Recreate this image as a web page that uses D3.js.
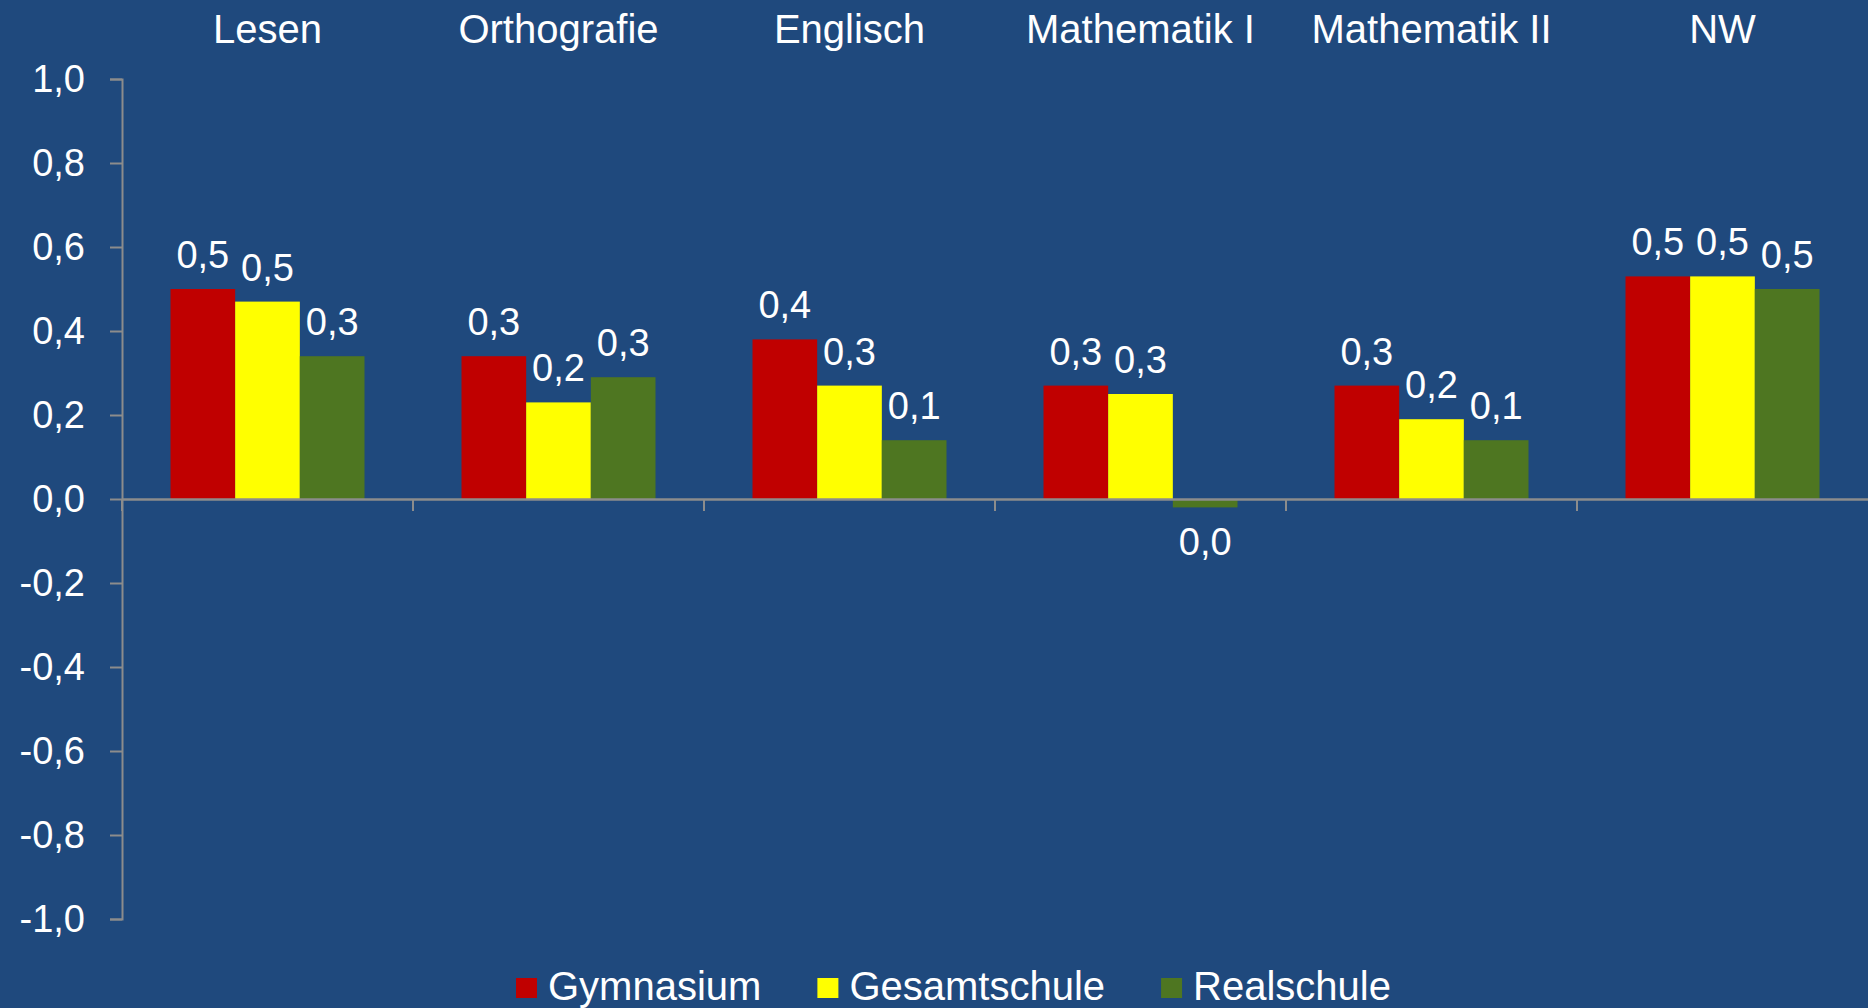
<!DOCTYPE html>
<html>
<head>
<meta charset="utf-8">
<script src="https://cdn.jsdelivr.net/npm/d3@7"></script>
<style>
  body { margin: 0; background: #1F497D; }
  #chart { width: 1868px; height: 1008px; }
  text { font-family: "Liberation Sans", Arial, sans-serif; fill: #fff; }
</style>
</head>
<body>
<div id="chart"></div>
<script>
// data
const subjects = ["Lesen", "Orthografie", "Englisch", "Mathematik I", "Mathematik II", "NW"];
const schools = ["Gymnasium", "Gesamtschule", "Realschule"];
const gymnasium    = [0.50, 0.34, 0.38, 0.27, 0.27, 0.53];
const gesamtschule = [0.47, 0.23, 0.27, 0.25, 0.19, 0.53];
const realschule   = [0.34, 0.29, 0.14, -0.02, 0.14, 0.50];
const yTicks = [-1, -0.8, -0.6, -0.4, -0.2, 0, 0.2, 0.4, 0.6, 0.8, 1];
const barColors = ["#C00000", "#FFFF00", "#4E7621"];

const width = 1868, height = 1008;
const svg = d3.select("#chart").append("svg")
    .attr("width", width)
    .attr("height", height);

const left = 122;
const y = d3.scaleLinear().domain([-1, 1]).range([919, 79]);
const x0 = d3.scaleBand().domain(subjects).range([left, width])
    .paddingInner(1 / 3).paddingOuter(1 / 6);
const x1 = d3.scaleBand().domain(schools).range([0, x0.bandwidth()]);
const colors = d3.scaleOrdinal().domain(schools).range(barColors);

const series = [gymnasium, gesamtschule, realschule];
const rows = [];
subjects.forEach((s, i) => {
  schools.forEach((k, j) => rows.push({ subject: s, school: k, value: series[j][i] }));
});

// german style: comma decimal, plain hyphen for minus
const fmt = v => {
  let t = d3.format(".1f")(v).replace("\u2212", "-");
  if (t === "-0.0") t = "0.0";
  return t.replace(".", ",");
};

// y axis
const yAxis = svg.append("g")
    .attr("transform", `translate(${left},0)`)
    .call(d3.axisLeft(y).tickValues(yTicks).tickSize(12).tickPadding(25).tickFormat(fmt));
yAxis.attr("font-family", null);
yAxis.select(".domain").attr("stroke", "#8C8C8C").attr("stroke-width", 2);
yAxis.selectAll(".tick line").attr("stroke", "#8C8C8C").attr("stroke-width", 2);
yAxis.selectAll(".tick text")
    .attr("fill", "#fff")
    .attr("font-size", 38);

// bars
svg.append("g")
  .selectAll("rect")
  .data(rows)
  .join("rect")
    .attr("x", d => x0(d.subject) + x1(d.school))
    .attr("width", x1.bandwidth())
    .attr("y", d => y(Math.max(0, d.value)))
    .attr("height", d => Math.abs(y(d.value) - y(0)))
    .attr("fill", d => colors(d.school));

// zero line + category ticks
const xAxis = svg.append("g")
    .attr("transform", `translate(0,${y(0)})`)
    .call(d3.axisBottom(x0).tickSize(0).tickFormat(""));
xAxis.select(".domain").attr("stroke", "#8C8C8C").attr("stroke-width", 2.5);
xAxis.selectAll(".tick").remove();
svg.append("g")
  .selectAll("line")
  .data(subjects)
  .join("line")
    .attr("x1", d => x0(d) - x0.step() * x0.paddingInner() / 2)
    .attr("x2", d => x0(d) - x0.step() * x0.paddingInner() / 2)
    .attr("y1", y(0))
    .attr("y2", y(0) + 12)
    .attr("stroke", "#8C8C8C")
    .attr("stroke-width", 2);

// value labels
svg.append("g")
  .selectAll("text")
  .data(rows)
  .join("text")
    .attr("x", d => x0(d.subject) + x1(d.school) + x1.bandwidth() / 2)
    .attr("y", d => d.value >= 0 ? y(d.value) - 21 : y(d.value) + 48)
    .attr("text-anchor", "middle")
    .attr("font-size", 38)
    .text(d => fmt(d.value));

// category titles on top
svg.append("g")
  .selectAll("text")
  .data(subjects)
  .join("text")
    .attr("x", d => x0(d) + x0.bandwidth() / 2)
    .attr("y", 43)
    .attr("text-anchor", "middle")
    .attr("font-size", 40)
    .text(d => d);

// legend
const legend = svg.append("g").attr("transform", "translate(516,978)");
let lx = 0;
schools.forEach((k, i) => {
  const item = legend.append("g").attr("transform", `translate(${lx},0)`);
  item.append("rect")
      .attr("width", 21).attr("height", 20)
      .attr("fill", colors(k));
  const t = item.append("text")
      .attr("x", 32).attr("y", 22)
      .attr("font-size", 40)
      .text(k);
  lx += 32 + t.node().getComputedTextLength() + 56;
});
</script>
</body>
</html>
